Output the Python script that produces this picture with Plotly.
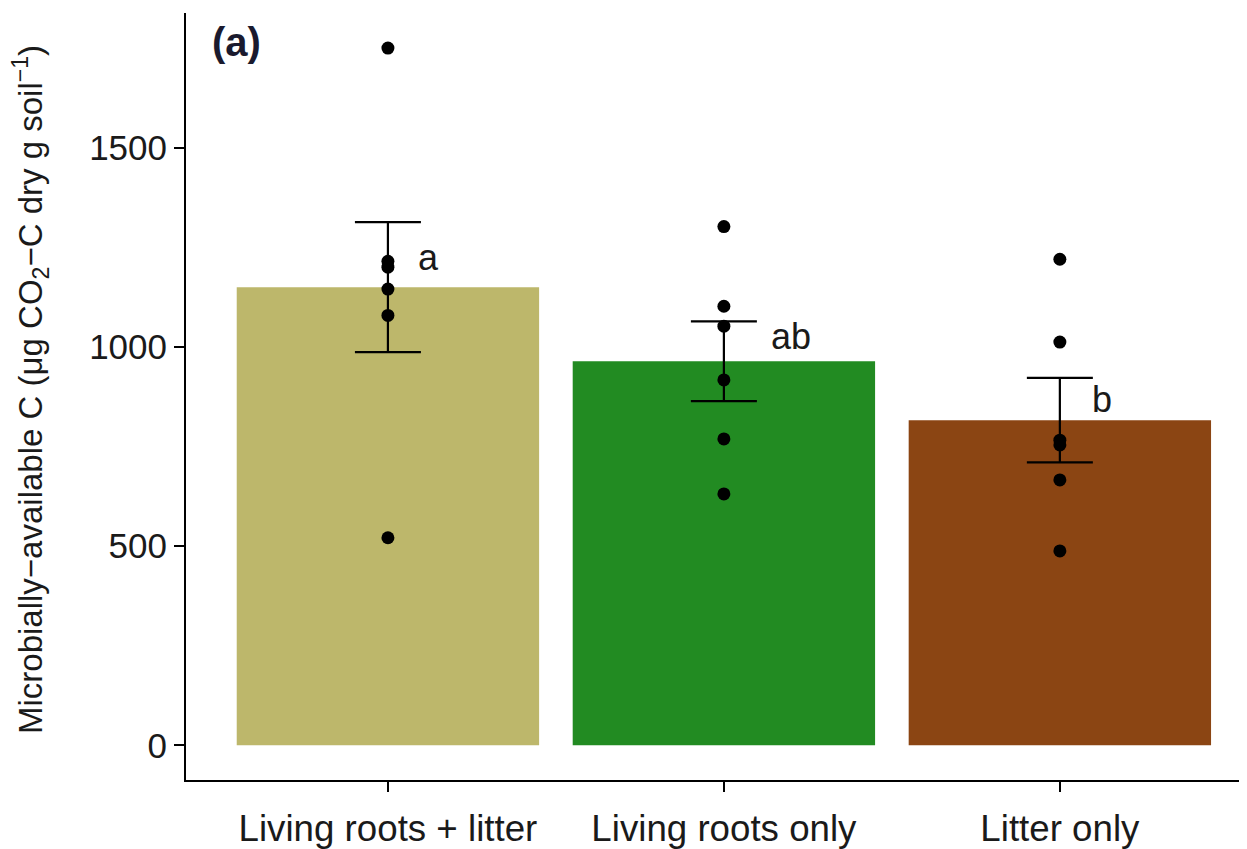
import plotly.graph_objects as go

categories = ["Living roots + litter", "Living roots only", "Litter only"]
bar_means = [1150, 964, 816]
bar_se = [163, 100, 106]
bar_colors = ["#BDB76B", "#228B22", "#8B4513"]

points_roots_litter = [1750, 1215, 1200, 1145, 1079, 521]
points_roots_only = [1302, 1102, 1052, 917, 769, 631]
points_litter_only = [1220, 1012, 766, 754, 666, 488]

letters = ["a", "ab", "b"]
letter_y = [1225, 1027, 869]
letter_dx = [0.122, 0.2, 0.125]

yticks = [0, 500, 1000, 1500]

FONT = "Liberation Sans, Arial, Helvetica, sans-serif"

# page has an 8px body margin; size the figure so it fits the window
OFF = 8
FIG_W, FIG_H = 1247 - OFF, 849 - OFF
ML, MT, MB, MR = 186 - OFF, 13 - OFF, 67, 0
plot_w = FIG_W - ML - MR
plot_h = FIG_H - MT - MB


def px_to_paper(px, py):
    """window pixel -> paper coords"""
    fx = px - OFF
    fy = py - OFF
    return (fx - ML) / plot_w, (FIG_H - MB - fy) / plot_h


fig = go.Figure()

fig.add_trace(go.Bar(
    x=categories, y=bar_means, width=0.9,
    marker=dict(color=bar_colors, line=dict(width=0)),
    error_y=dict(type="data", array=bar_se, visible=True,
                 color="black", thickness=2.2, width=33),
    showlegend=False, hoverinfo="skip",
))

all_points = [points_roots_litter, points_roots_only, points_litter_only]
for cat, pts in zip(categories, all_points):
    fig.add_trace(go.Scatter(
        x=[cat] * len(pts), y=pts, mode="markers",
        marker=dict(color="black", size=13, line=dict(width=0)),
        showlegend=False, hoverinfo="skip",
    ))

annotations = []
for i, (lab, ly, dx) in enumerate(zip(letters, letter_y, letter_dx)):
    annotations.append(dict(
        x=i + dx, y=ly, xref="x", yref="y", text=lab, showarrow=False,
        xanchor="center", yanchor="middle",
        font=dict(family=FONT, size=36, color="#1a1a1a"),
    ))

ax, ay = px_to_paper(236, 42)
annotations.append(dict(
    x=ax, y=ay, xref="paper", yref="paper", text="<b>(a)</b>", showarrow=False,
    xanchor="center", yanchor="middle",
    font=dict(family=FONT, size=40, color="#1a1a2e"),
))

tx, ty = px_to_paper(30, 391)
annotations.append(dict(
    x=tx, y=ty, xref="paper", yref="paper",
    text="Microbially\u2212available C (\u03bcg CO<sub>2</sub>\u2212C dry g soil<sup>\u22121</sup>)",
    textangle=-90, showarrow=False, xanchor="center", yanchor="middle",
    font=dict(family=FONT, size=33, color="#1a1a1a"),
))

fig.update_layout(
    width=FIG_W, height=FIG_H,
    margin=dict(l=ML, r=MR, t=MT, b=MB, pad=0),
    plot_bgcolor="white", paper_bgcolor="white",
    font=dict(family=FONT, size=36, color="#1a1a1a"),
    annotations=annotations,
)

fig.update_xaxes(
    type="category", range=[-0.601, 2.557],
    showline=True, linecolor="black", linewidth=2,
    ticks="outside", ticklen=10, tickwidth=2, tickcolor="black",
    showgrid=False, zeroline=False, ticklabelstandoff=5,
    tickfont=dict(family=FONT, size=36.7, color="#1a1a1a"),
)
fig.update_yaxes(
    range=[-87, 1838], tickvals=yticks,
    showline=True, linecolor="black", linewidth=2,
    ticks="outside", ticklen=10, tickwidth=2, tickcolor="black",
    showgrid=False, zeroline=False,
    tickfont=dict(family=FONT, size=35, color="#1a1a1a"),
)

fig.write_html("out.html")
